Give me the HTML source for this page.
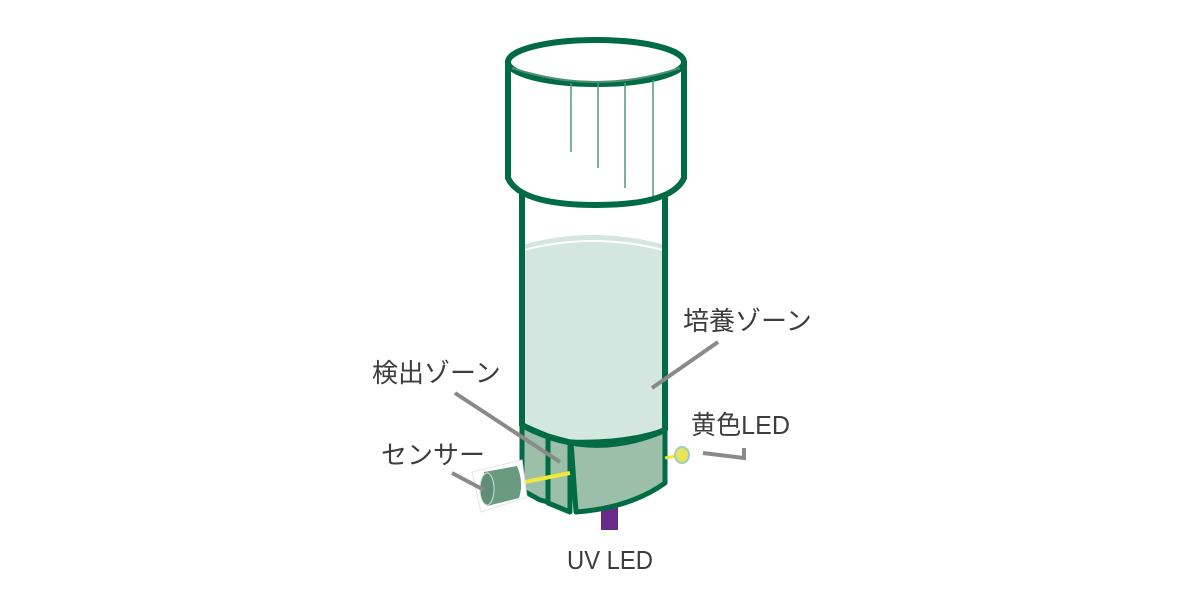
<!DOCTYPE html>
<html><head><meta charset="utf-8"><style>
html,body{margin:0;padding:0;background:#fff;width:1200px;height:600px;overflow:hidden}
text{font-family:"Liberation Sans","Noto Sans CJK JP",sans-serif;fill:#3d3d3d;font-size:26px}
</style></head><body>
<svg width="1200" height="600" viewBox="0 0 1200 600" xmlns="http://www.w3.org/2000/svg">
<!-- tube -->
<rect x="522" y="190" width="143" height="240" fill="#fff"/>
<path d="M522 245 Q593 225 665 245 L665 430 Q590 462 522 425 Z" fill="#d3e6e0"/>
<path d="M524 250 Q593 232 663 250" stroke="#fff" stroke-width="2" fill="none"/>
<line x1="522" y1="190" x2="522" y2="426" stroke="#006b45" stroke-width="6"/>
<line x1="665" y1="190" x2="665" y2="431" stroke="#006b45" stroke-width="6"/>
<rect x="601" y="500" width="17" height="30" fill="#6a2a8a"/>
<!-- base -->
<path d="M522 425 L548 436 L548 502 L540 500 L522 490 Z" fill="#9bbfa9" stroke="#006b45" stroke-width="5" stroke-linejoin="round"/>
<path d="M548 436 L570 442 L570 512 L548 503 Z" fill="#9bbfa9" stroke="#006b45" stroke-width="5" stroke-linejoin="round"/>
<path d="M571 442 Q625 444 665 430 L665 483 Q630 508 576 512 Z" fill="#9bbfa9" stroke="#006b45" stroke-width="5" stroke-linejoin="round"/>
<path d="M522 425 Q590 462 665 430" fill="none" stroke="#006b45" stroke-width="6"/>
<!-- cap -->
<path d="M508 65 L508 178 Q520 205 596 205 Q672 205 684 178 L684 65 Z" fill="#fff" stroke="#006b45" stroke-width="6"/>
<ellipse cx="596" cy="62" rx="88" ry="22" fill="#fff" stroke="#006b45" stroke-width="6"/>
<path d="M512 68 Q596 96 680 68" stroke="#4d8f74" stroke-width="2" fill="none"/>
<g stroke="#4d9a7a" stroke-width="1.5">
<line x1="571" y1="83" x2="571" y2="152"/><line x1="598" y1="83" x2="598" y2="168"/>
<line x1="625" y1="83" x2="625" y2="188"/><line x1="653" y1="80" x2="653" y2="196"/>
</g>
<!-- sensor -->
<line x1="520" y1="483" x2="570" y2="473" stroke="#f0e83a" stroke-width="4"/>
<path d="M472 472 L522 460 L527 497 L481 512 Z" fill="#fff" stroke="#e4e4e4" stroke-width="1"/>
<path d="M484 472 L517 466 Q524 482 519 498 L487 506 Z" fill="#6a9a80"/>
<ellipse cx="487" cy="489" rx="7" ry="16" fill="#5e8f74" stroke="#cfe3d8" stroke-width="1"/>
<!-- yellow LED -->
<line x1="665" y1="458" x2="676" y2="456" stroke="#f0e83a" stroke-width="3"/>
<ellipse cx="682" cy="455" rx="7" ry="8" fill="#e8e35a" stroke="#9fd0b8" stroke-width="2"/>
<!-- leaders -->
<g stroke="#8a8a8a" stroke-width="4" fill="none">
<line x1="718" y1="342" x2="652" y2="388"/>
<line x1="455" y1="393" x2="560" y2="462"/>
<line x1="452" y1="473" x2="484" y2="490"/>
<polyline points="703,453 744,458 744,448"/>
</g>
<text x="683" y="330">培養ゾーン</text>
<text x="372" y="382">検出ゾーン</text>
<text x="381" y="464">センサー</text>
<text x="691" y="434" textLength="99" lengthAdjust="spacingAndGlyphs">黄色LED</text>
<text x="567" y="569" textLength="86" lengthAdjust="spacingAndGlyphs">UV LED</text>
</svg>
</body></html>
